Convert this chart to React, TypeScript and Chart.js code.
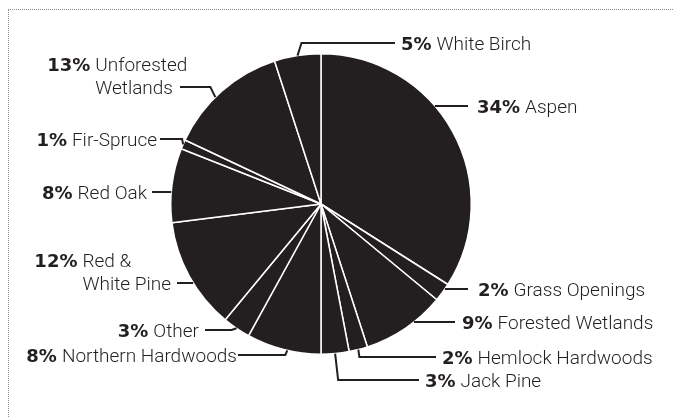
import React, { useEffect, useRef } from "react";
import { Chart, registerables } from "chart.js";

Chart.register(...registerables);

// ---- data ----
const categories = [
  "Aspen",
  "Grass Openings",
  "Forested Wetlands",
  "Hemlock Hardwoods",
  "Jack Pine",
  "Northern Hardwoods",
  "Other",
  "Red & White Pine",
  "Red Oak",
  "Fir-Spruce",
  "Unforested Wetlands",
  "White Birch",
];
const shares = [34, 2, 9, 2, 3, 8, 3, 12, 8, 1, 13, 5];
const percentLabels = shares.map((v) => `${v}%`);

// ---- label layout (annotation placement, not data) ----
const labelSide = ["r", "r", "r", "r", "r", "l", "l", "l", "l", "l", "l", "r"];
const labelDy = [-98, 85, 118, 153, 176, 151, 126, 79, -12, -65, -117, -161];
const anchorFrac = [-1, -1, -1, 0.5, 0.5, 0.45, 0.5, -1, -1, 0.5, 0.43, 0.5];
const elbowDx = [0, 0, 0, 1, 3, -2, -5, 0, 0, -1, -5, 4];
const lineEndDx = [147, 147, 134, 115, 98, -83, -116, -144, -169, -161, -141, 74];
const textGap = [9, 10, 7, 6, 6, 1, 6, 6, 5, 3, 7, 6];
const firstLineWords = [0, 0, 0, 0, 0, 0, 0, 2, 0, 0, 1, 0];

const INK = "#231f20";
const PCT_FONT = `bold 18px "DejaVu Sans"`;
const NAME_FONT = `300 19px Roboto`;
const CAP_OFF = 6.7;
const LINE_H = 22.5;
const WORD_GAP = 5;

const labelPlugin = {
  id: "pieLabels",
  afterDatasetsDraw(chart: any) {
    const ctx: CanvasRenderingContext2D = chart.ctx;
    const meta = chart.getDatasetMeta(0);
    ctx.save();
    meta.data.forEach((arc: any, i: number) => {
      const p = arc.getProps(["x", "y", "startAngle", "endAngle", "outerRadius"], true);
      const cx = p.x;
      const cy = p.y;
      const r = p.outerRadius;
      const ty = cy + labelDy[i];
      const right = labelSide[i] === "r";
      let p0x: number, p0y: number, p1x: number;
      if (anchorFrac[i] < 0) {
        const dx = Math.sqrt(Math.max(0, r * r - labelDy[i] * labelDy[i]));
        p0x = cx + (right ? dx : -dx);
        p0y = ty;
        p1x = p0x;
      } else {
        const a = p.startAngle + (p.endAngle - p.startAngle) * anchorFrac[i];
        p0x = cx + r * Math.cos(a);
        p0y = cy + r * Math.sin(a);
        p1x = p0x + elbowDx[i];
      }
      const lx = cx + lineEndDx[i];
      ctx.strokeStyle = INK;
      ctx.lineWidth = 2;
      ctx.lineJoin = "miter";
      ctx.beginPath();
      ctx.moveTo(p0x, p0y);
      ctx.lineTo(p1x, ty);
      ctx.lineTo(lx, ty);
      ctx.stroke();

      ctx.fillStyle = INK;
      ctx.textBaseline = "alphabetic";
      const by = ty + CAP_OFF;
      const name = categories[i];
      const pct = percentLabels[i];
      if (right) {
        const x0 = lx + textGap[i];
        ctx.font = PCT_FONT;
        ctx.textAlign = "left";
        ctx.fillText(pct, x0, by);
        const pw = ctx.measureText(pct).width;
        ctx.font = NAME_FONT;
        ctx.fillText(name, x0 + pw + WORD_GAP, by);
      } else {
        const xr = lx - textGap[i];
        const n = firstLineWords[i];
        if (n > 0) {
          const words = name.split(" ");
          const l1 = words.slice(0, n).join(" ");
          const l2 = words.slice(n).join(" ");
          ctx.font = NAME_FONT;
          ctx.textAlign = "right";
          ctx.fillText(l2, xr, by);
          const nameStart = xr - ctx.measureText(l2).width;
          ctx.textAlign = "left";
          ctx.fillText(l1, nameStart, by - LINE_H);
          ctx.font = PCT_FONT;
          ctx.textAlign = "right";
          ctx.fillText(pct, nameStart - WORD_GAP, by - LINE_H);
        } else {
          ctx.font = NAME_FONT;
          ctx.textAlign = "right";
          ctx.fillText(name, xr, by);
          const nw = ctx.measureText(name).width;
          ctx.font = PCT_FONT;
          ctx.fillText(pct, xr - nw - WORD_GAP, by);
        }
      }
    });
    ctx.restore();
  },
};

export default function App() {
  const canvasRef = useRef<HTMLCanvasElement | null>(null);

  useEffect(() => {
    const canvas = canvasRef.current;
    if (!canvas) return;
    const chart = new Chart(canvas, {
      type: "pie",
      data: {
        labels: categories,
        datasets: [
          {
            data: shares,
            backgroundColor: INK,
            borderColor: "#ffffff",
            borderWidth: 1.5,
            hoverOffset: 0,
          },
        ],
      },
      options: {
        responsive: false,
        animation: false,
        devicePixelRatio: 1,
        events: [],
        layout: { padding: { left: 170, right: 201, top: 53, bottom: 62 } },
        plugins: {
          legend: { display: false },
          tooltip: { enabled: false },
        },
      },
      plugins: [labelPlugin],
    } as any);
    let alive = true;
    if ((document as any).fonts) {
      Promise.all([
        (document as any).fonts.load(PCT_FONT),
        (document as any).fonts.load(NAME_FONT),
      ]).then(() => {
        if (alive) chart.draw();
      });
    }
    return () => {
      alive = false;
      chart.destroy();
    };
  }, []);

  return (
    <div style={{ position: "absolute", left: 0, top: 0, width: 673, height: 417, background: "#fff", overflow: "hidden" }}>
      <div
        style={{
          position: "absolute",
          left: 8,
          top: 9,
          right: 0,
          bottom: 0,
          borderTop: "1px dotted #8a8a8a",
          borderLeft: "1px dotted #8a8a8a",
        }}
      />
      <canvas
        ref={canvasRef}
        width={673}
        height={417}
        style={{ position: "absolute", left: 0, top: 0, width: 673, height: 417 }}
      />
    </div>
  );
}
